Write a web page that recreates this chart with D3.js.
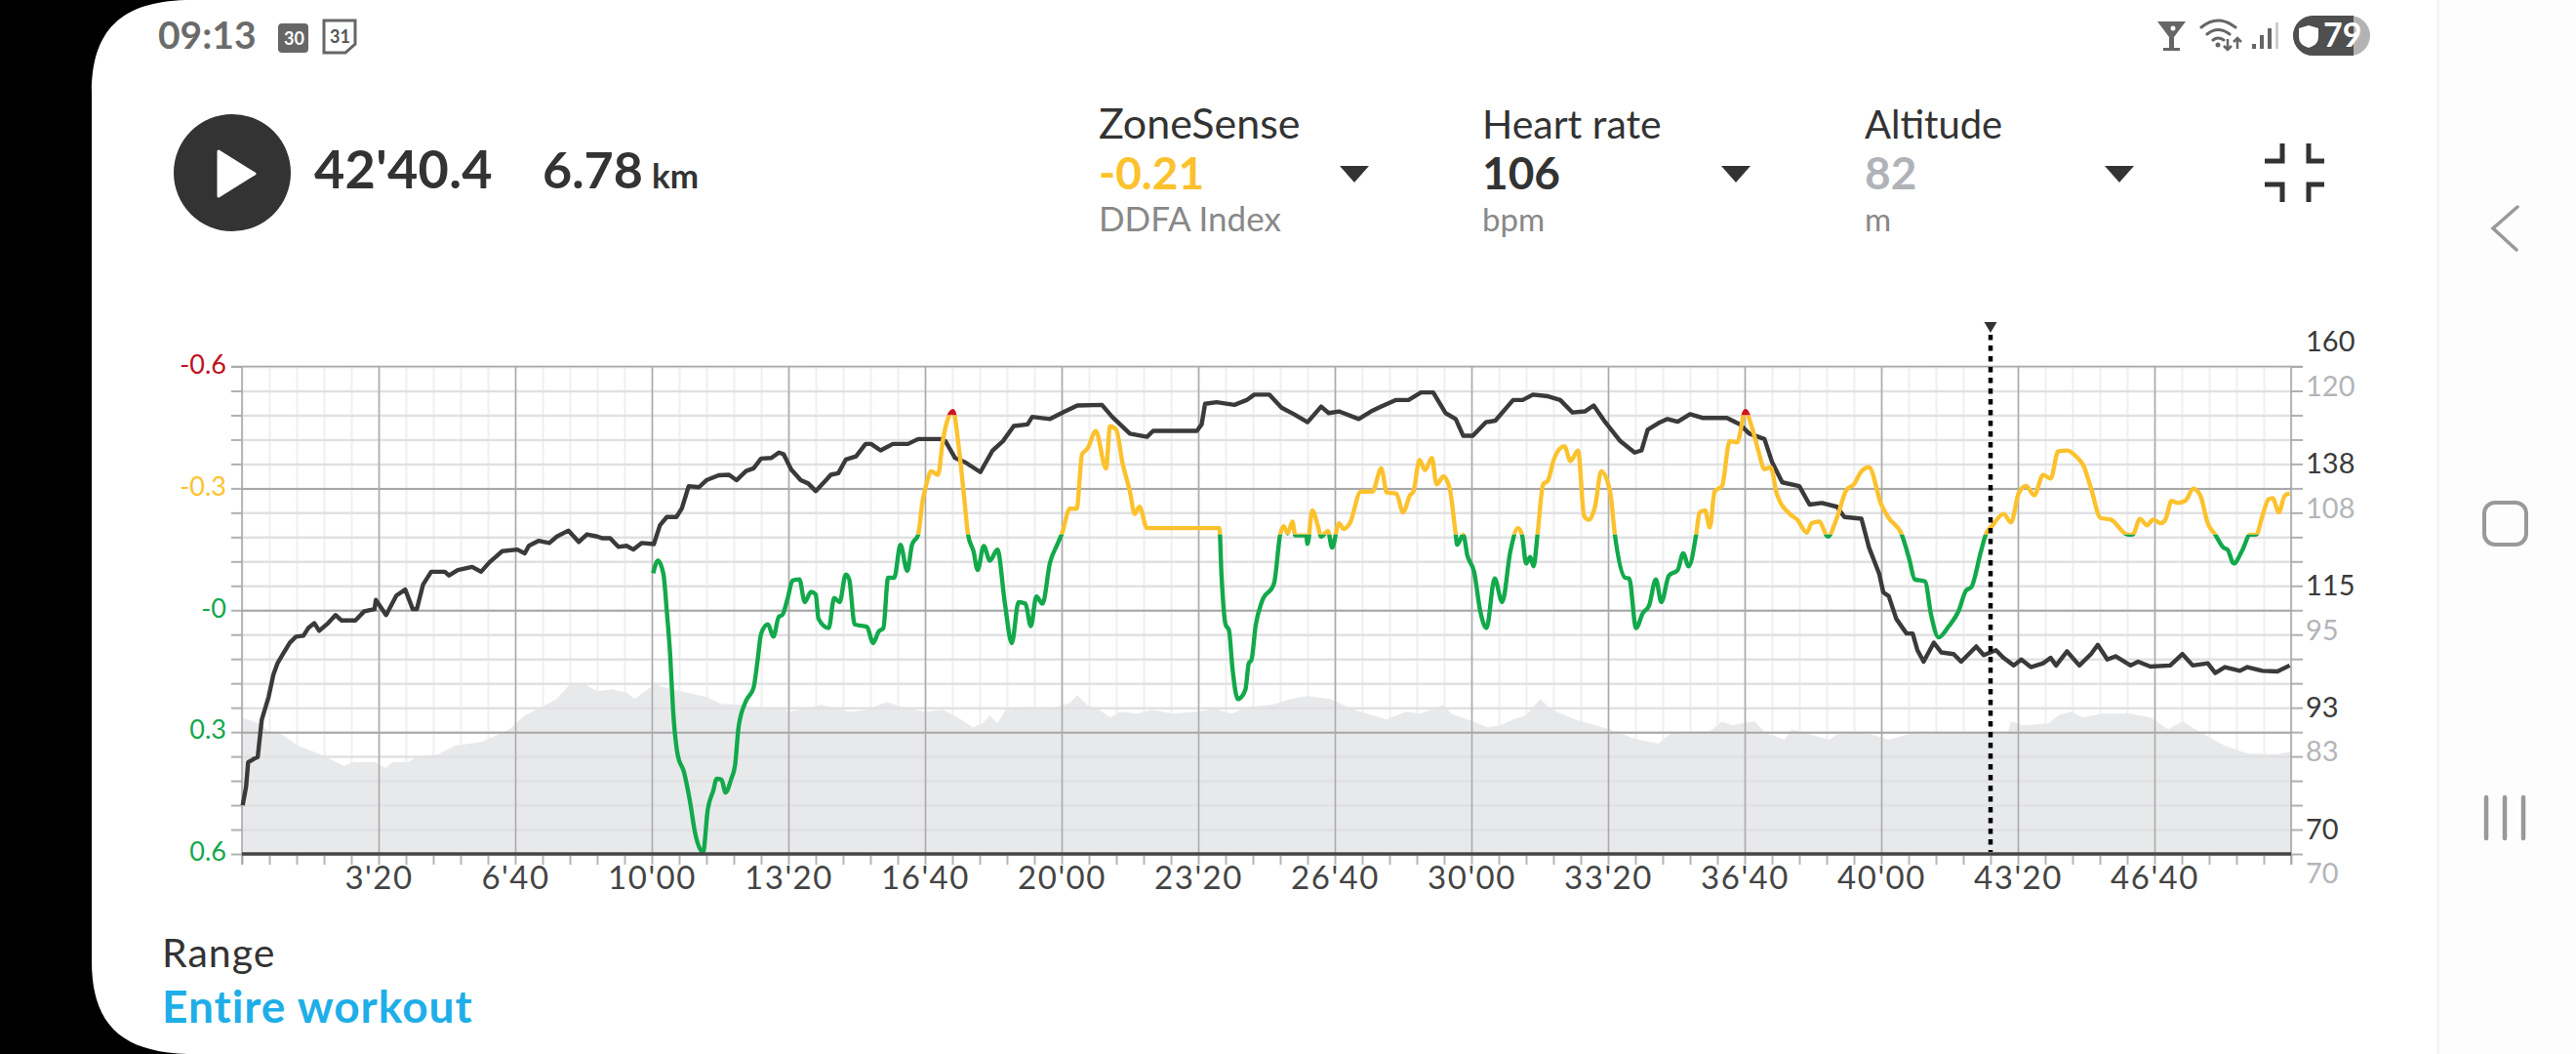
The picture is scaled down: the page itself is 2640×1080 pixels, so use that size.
<!DOCTYPE html>
<html>
<head>
<meta charset="utf-8">
<title>ZoneSense</title>
<script src="https://cdn.jsdelivr.net/npm/d3@7"></script>
<style>
  html, body { margin: 0; padding: 0; background: #fff; overflow: hidden; }
  svg { display: block; font-family: Lato, "Open Sans", sans-serif; }
</style>
</head>
<body>
<div id="chart"></div>
<script>
// values: [seconds, value]
const heartRate = [[1,79],[6,82.4],[9,86.9],[18,87.6],[23,87.9],[29,94.8],[39,99],[46,103.1],[52,105.2],[60,106.9],[70,109],[79,110.1],[90,110.3],[97,111.7],[106,112.6],[113,111.2],[126,112.6],[137,114.1],[146,113.1],[166,113.1],[179,114.8],[194,115.2],[196,116.9],[211,114.1],[226,117.7],[239,118.8],[250,115.2],[256,115.2],[265,119.7],[277,122.1],[297,122.1],[303,121.4],[316,122.4],[337,123],[350,122.1],[362,123.8],[381,125.9],[403,126.2],[414,125.5],[420,126.9],[434,127.8],[450,127.4],[461,128.6],[478,129.7],[493,127.6],[505,129],[520,128.6],[527,128.3],[539,128.3],[551,126.7],[563,126.9],[573,126.2],[585,127.4],[603,127.2],[612,130.7],[622,132.2],[636,132.2],[644,133.8],[654,137.9],[669,137.7],[680,139],[698,139.9],[713,140],[724,139],[738,140.7],[749,141.2],[760,143],[775,143.1],[786,144.1],[793,143.8],[804,141],[818,139],[829,138.4],[840,137],[855,139],[862,140],[873,140.3],[884,142.8],[899,143.4],[913,145.7],[921,145.7],[935,144.5],[953,145.7],[975,145.7],[990,146.6],[1023,146.6],[1030,146.2],[1044,143.1],[1059,142.3],[1081,140.5],[1099,144.5],[1114,146.2],[1130,149],[1150,149.3],[1157,150.7],[1183,150.3],[1205,151.7],[1223,152.8],[1259,152.9],[1274,150.7],[1300,147.6],[1325,147],[1334,148.1],[1398,148.1],[1405,149.3],[1410,153.1],[1427,153.4],[1453,152.9],[1471,153.8],[1482,154.8],[1504,154.8],[1522,152.4],[1540,151.2],[1560,149.7],[1580,152.6],[1591,151.4],[1606,151.7],[1635,150.3],[1653,151.7],[1668,152.6],[1689,153.8],[1708,153.8],[1726,155.2],[1744,155.2],[1762,151.4],[1777,150.3],[1788,147.2],[1802,147.2],[1821,149.7],[1835,150],[1861,153.8],[1875,153.8],[1890,154.8],[1912,154.5],[1930,153.8],[1948,151.5],[1966,151.7],[1979,152.8],[1996,149.7],[2018,146.2],[2039,144.1],[2049,144.5],[2058,148.3],[2076,149.7],[2087,150.3],[2102,149.8],[2120,151.2],[2138,150.5],[2174,150.5],[2193,149.3],[2207,147.6],[2229,146.6],[2240,142.4],[2255,138.6],[2280,137.9],[2295,134.5],[2313,134.8],[2335,134.1],[2346,132.2],[2371,131.9],[2382,126.6],[2397,121.7],[2403,118.3],[2411,117.6],[2422,113.4],[2437,110.7],[2446,110.7],[2453,107.6],[2462,105.5],[2477,109],[2488,107.2],[2506,106.9],[2517,105.5],[2539,108.3],[2550,106.7],[2568,107.6],[2579,106.2],[2594,104.8],[2605,105.9],[2619,104.5],[2637,105.2],[2648,106.2],[2656,104.8],[2672,107.4],[2690,104.8],[2707,106.9],[2717,108.6],[2731,105.9],[2743,106.5],[2765,104.8],[2776,105.5],[2794,104.6],[2823,104.8],[2841,106.9],[2856,104.8],[2878,105.2],[2889,103.4],[2903,104.5],[2925,103.8],[2936,104.5],[2958,103.8],[2980,103.7],[2998,104.8]];

const zoneSense = [[602,-0.091],[609,-0.122],[617,-0.089],[622,0.003],[627,0.113],[631,0.242],[638,0.357],[647,0.398],[656,0.472],[663,0.545],[675,0.596],[682,0.49],[690,0.444],[695,0.415],[702,0.417],[708,0.449],[716,0.417],[722,0.38],[727,0.288],[738,0.223],[749,0.191],[755,0.122],[760,0.058],[770,0.035],[778,0.065],[786,0.016],[791,0.012],[799,-0.03],[806,-0.073],[816,-0.076],[824,-0.02],[833,-0.045],[840,-0.039],[844,0.021],[859,0.044],[867,-0.03],[875,-0.02],[884,-0.088],[889,-0.076],[897,0.035],[915,0.041],[924,0.081],[932,0.053],[939,0.044],[946,-0.08],[955,-0.08],[964,-0.161],[974,-0.097],[981,-0.161],[990,-0.186],[996,-0.264],[1002,-0.31],[1009,-0.342],[1019,-0.333],[1026,-0.416],[1031,-0.457],[1041,-0.49],[1050,-0.393],[1057,-0.283],[1063,-0.186],[1071,-0.145],[1077,-0.099],[1086,-0.158],[1095,-0.122],[1106,-0.149],[1117,-0.016],[1127,0.081],[1137,-0.02],[1147,-0.016],[1155,0.039],[1163,-0.034],[1172,-0.016],[1183,-0.117],[1194,-0.163],[1201,-0.191],[1212,-0.25],[1222,-0.25],[1230,-0.384],[1238,-0.398],[1250,-0.441],[1265,-0.349],[1271,-0.453],[1280,-0.444],[1289,-0.364],[1300,-0.292],[1307,-0.237],[1314,-0.255],[1325,-0.202],[1340,-0.202],[1431,-0.202],[1434,-0.089],[1440,0.035],[1445,0.049],[1450,0.141],[1458,0.219],[1469,0.196],[1474,0.131],[1478,0.122],[1484,0.039],[1493,-0.02],[1511,-0.066],[1520,-0.186],[1525,-0.207],[1531,-0.189],[1538,-0.218],[1542,-0.184],[1558,-0.184],[1560,-0.163],[1567,-0.246],[1575,-0.209],[1580,-0.181],[1590,-0.195],[1596,-0.154],[1606,-0.214],[1613,-0.2],[1622,-0.214],[1638,-0.292],[1655,-0.292],[1668,-0.349],[1676,-0.29],[1690,-0.287],[1700,-0.241],[1710,-0.283],[1715,-0.292],[1724,-0.37],[1732,-0.345],[1742,-0.375],[1749,-0.31],[1759,-0.329],[1768,-0.301],[1777,-0.186],[1779,-0.161],[1788,-0.186],[1794,-0.135],[1804,-0.094],[1813,0.003],[1822,0.044],[1834,-0.078],[1845,-0.02],[1857,-0.145],[1868,-0.202],[1874,-0.186],[1880,-0.115],[1886,-0.131],[1891,-0.108],[1897,-0.191],[1905,-0.31],[1912,-0.319],[1921,-0.373],[1936,-0.404],[1945,-0.367],[1956,-0.393],[1965,-0.232],[1972,-0.223],[1981,-0.255],[1990,-0.342],[2003,-0.292],[2010,-0.186],[2025,-0.08],[2031,-0.078],[2041,0.044],[2051,0.007],[2060,-0.011],[2070,-0.076],[2078,-0.02],[2089,-0.085],[2102,-0.099],[2110,-0.14],[2118,-0.108],[2129,-0.186],[2134,-0.241],[2142,-0.246],[2149,-0.204],[2156,-0.292],[2167,-0.306],[2178,-0.416],[2189,-0.413],[2201,-0.49],[2211,-0.448],[2220,-0.393],[2229,-0.347],[2238,-0.352],[2247,-0.287],[2266,-0.237],[2277,-0.223],[2291,-0.191],[2298,-0.214],[2309,-0.218],[2322,-0.181],[2335,-0.227],[2349,-0.296],[2360,-0.31],[2371,-0.342],[2382,-0.352],[2400,-0.26],[2411,-0.227],[2430,-0.186],[2441,-0.126],[2449,-0.076],[2464,-0.071],[2473,0.012],[2484,0.067],[2499,0.039],[2513,0.003],[2524,-0.048],[2532,-0.057],[2546,-0.145],[2553,-0.186],[2563,-0.209],[2579,-0.237],[2590,-0.216],[2601,-0.287],[2612,-0.306],[2624,-0.283],[2637,-0.333],[2648,-0.324],[2659,-0.391],[2672,-0.393],[2685,-0.379],[2696,-0.356],[2707,-0.301],[2721,-0.227],[2736,-0.223],[2761,-0.186],[2768,-0.186],[2779,-0.225],[2789,-0.209],[2798,-0.223],[2809,-0.214],[2816,-0.223],[2825,-0.269],[2834,-0.264],[2845,-0.269],[2857,-0.299],[2867,-0.283],[2878,-0.214],[2889,-0.186],[2901,-0.154],[2907,-0.149],[2916,-0.115],[2929,-0.149],[2940,-0.186],[2949,-0.186],[2958,-0.232],[2967,-0.273],[2973,-0.276],[2982,-0.241],[2991,-0.283],[2998,-0.287]];

const altitude = [[0,84],[24,83.4],[39,82.6],[57,82.3],[82,81.1],[115,80.2],[150,79],[162,79.4],[195,79.4],[210,78.8],[221,79.4],[243,79.4],[257,80],[287,80.2],[312,81.1],[352,81.5],[392,82.8],[414,84.2],[439,85.1],[461,85.9],[480,87.4],[502,87.4],[520,86.7],[542,86.9],[564,86.5],[575,85.9],[604,87.4],[629,86.9],[655,86.5],[680,86.1],[702,85.4],[735,85.3],[757,84.9],[793,84.9],[801,84.6],[848,85.3],[890,84.6],[915,84.8],[944,85.6],[966,85.1],[1000,84.6],[1026,84.8],[1048,84],[1070,83],[1084,83.4],[1095,84.2],[1106,83.4],[1119,84.9],[1157,85.1],[1179,84.8],[1212,85.5],[1223,86.3],[1237,85.3],[1253,84.9],[1271,84],[1286,84.6],[1311,84.4],[1333,84.8],[1362,84.4],[1398,84.6],[1424,84.9],[1449,84.4],[1474,85.1],[1507,85.3],[1536,85.9],[1558,86.2],[1594,85.9],[1624,84.9],[1675,83.8],[1704,84.6],[1726,84.4],[1759,85.3],[1770,84.4],[1802,83.6],[1824,83],[1842,83.2],[1861,83.8],[1879,84.2],[1901,85.9],[1915,84.9],[1951,83.8],[2002,82.8],[2039,81.8],[2074,81.3],[2091,82.3],[2113,82.6],[2149,82.6],[2167,83.6],[2182,83.2],[2196,83.4],[2215,83.6],[2229,82.5],[2258,81.7],[2269,82.8],[2284,82.5],[2324,81.7],[2342,82.6],[2375,82.5],[2411,81.7],[2455,82.6],[2499,82.3],[2557,82.5],[2586,82.6],[2590,83.6],[2608,83.2],[2645,83.4],[2659,84.2],[2677,84.6],[2696,84],[2721,84.4],[2765,84.4],[2794,84],[2820,82.8],[2841,83.6],[2871,82.3],[2903,81.1],[2936,80.3],[2980,80.2],[3000,80.5]];

const timeMajor = [200, 400, 600, 800, 1000, 1200, 1400, 1600, 1800, 2000, 2200, 2400, 2600, 2800];
const zsTicks = [-0.6, -0.3, 0, 0.3, 0.6];
const zsLabels = ["-0.6", "-0.3", "-0", "0.3", "0.6"];
const zsLabelColors = ["#c1121f", "#fcc22e", "#13a84b", "#13a84b", "#13a84b"];
const hrTicks = [160, 137.5, 115, 92.5, 70];
const hrLabels = ["160", "138", "115", "93", "70"];
const altTicks = [120, 107.5, 95, 82.5, 70];
const altLabels = ["120", "108", "95", "83", "70"];
const cursorTime = 2560;
const zsLimits = [-0.48, -0.186];

const width = 2640, height = 1080;
const plot = { left: 248, right: 2348, top: 375.5, bottom: 875 };

const svg = d3.select("#chart").append("svg")
    .attr("width", width)
    .attr("height", height);

// scales
const x = d3.scaleLinear().domain([0, 3000]).range([plot.left, plot.right]);
const yZs = d3.scaleLinear().domain([-0.6, 0.6]).range([plot.top, plot.bottom]);
const yHr = d3.scaleLinear().domain([160, 70]).range([plot.top, plot.bottom]);
const yAlt = d3.scaleLinear().domain([120, 70]).range([plot.top, plot.bottom]);

const timeFormat = s => Math.floor(s / 60) + "'" + String(s % 60).padStart(2, "0");

const xMinor = d3.range(0, 3001, 40);
const yMinor = d3.range(0, 21).map(i => -0.6 + i * 0.06);
const chartW = plot.right - plot.left, chartH = plot.bottom - plot.top;

// vertical minor grid sits under the altitude area
svg.append("g")
    .attr("transform", `translate(0,${plot.bottom})`)
    .call(d3.axisBottom(x).tickValues(xMinor).tickSize(-chartH).tickFormat(""))
    .call(g => g.select(".domain").remove())
    .selectAll("line").attr("stroke", "#efefef").attr("stroke-width", 2);

// altitude area
const altArea = d3.area()
    .x(d => x(d[0]))
    .y0(plot.bottom)
    .y1(d => yAlt(d[1]));
svg.append("path")
    .datum(altitude)
    .attr("d", altArea)
    .attr("fill", "#e8e9eb");

// small ticks below the axis
svg.append("g")
    .attr("transform", `translate(0,${plot.bottom})`)
    .call(d3.axisBottom(x).tickValues(xMinor).tickSize(11).tickFormat(""))
    .call(g => g.select(".domain").remove())
    .selectAll("line").attr("stroke", "#b5b5b5").attr("stroke-width", 2);

// horizontal minor grid, runs out to short ticks on both sides
svg.append("g")
    .attr("transform", `translate(${plot.left},0)`)
    .call(d3.axisLeft(yZs).tickValues(yMinor).tickSize(11).tickFormat(""))
    .call(g => g.select(".domain").remove())
    .selectAll("line").attr("stroke", "#b0b0b0").attr("stroke-width", 2);
svg.append("g")
    .attr("transform", `translate(${plot.right},0)`)
    .call(d3.axisRight(yZs).tickValues(yMinor).tickSize(12).tickFormat(""))
    .call(g => g.select(".domain").remove())
    .selectAll("line").attr("stroke", "#b0b0b0").attr("stroke-width", 2);
svg.append("g")
    .attr("transform", `translate(${plot.left},0)`)
    .call(d3.axisRight(yZs).tickValues(yMinor).tickSize(chartW).tickFormat(""))
    .call(g => g.select(".domain").remove())
    .selectAll("line").attr("stroke", "#e1e1e3").attr("stroke-width", 2.5);

// major grid
svg.append("g")
    .attr("transform", `translate(${plot.left},0)`)
    .call(d3.axisRight(yZs).tickValues([-0.3, 0, 0.3]).tickSize(chartW).tickFormat(""))
    .call(g => g.select(".domain").remove())
    .selectAll("line").attr("stroke", "#a8a8a8").attr("stroke-width", 2);
svg.append("g")
    .attr("transform", `translate(0,${plot.bottom})`)
    .call(d3.axisBottom(x).tickValues(timeMajor).tickSize(-chartH).tickFormat(""))
    .call(g => g.select(".domain").remove())
    .selectAll("line").attr("stroke", "#ababab").attr("stroke-width", 1.6);
// frame
svg.append("line").attr("x1", plot.left - 11).attr("x2", plot.right + 12)
    .attr("y1", plot.top).attr("y2", plot.top)
    .attr("stroke", "#a8a8a8").attr("stroke-width", 1.6);
svg.append("line").attr("x1", plot.left).attr("x2", plot.left)
    .attr("y1", plot.top).attr("y2", plot.bottom + 11)
    .attr("stroke", "#a8a8a8").attr("stroke-width", 1.6);
svg.append("line").attr("x1", plot.right).attr("x2", plot.right)
    .attr("y1", plot.top).attr("y2", plot.bottom + 11)
    .attr("stroke", "#a8a8a8").attr("stroke-width", 1.6);

// x tick labels
svg.append("g")
    .attr("transform", `translate(0,${plot.bottom})`)
    .call(d3.axisBottom(x).tickValues(timeMajor).tickSize(0).tickPadding(13).tickFormat(timeFormat))
    .call(g => g.select(".domain").remove())
    .selectAll("text")
    .attr("font-family", "Lato, sans-serif")
    .attr("font-size", 33)
    .attr("letter-spacing", 1.5)
    .attr("fill", "#444");

// left labels, coloured per zone
svg.append("g")
    .attr("transform", `translate(${plot.left - 16},0)`)
    .call(d3.axisLeft(yZs).tickValues(zsTicks).tickSize(0).tickPadding(0)
        .tickFormat((d, i) => zsLabels[i]))
    .call(g => g.select(".domain").remove())
    .selectAll("text")
    .attr("font-family", "Lato, sans-serif")
    .attr("font-size", 27)
    .attr("dy", "0.25em")
    .attr("fill", (d, i) => zsLabelColors[i]);

// right labels: heart rate above the line, altitude below it
svg.append("g")
    .attr("transform", `translate(${plot.right + 15},0)`)
    .call(d3.axisRight(yHr).tickValues(hrTicks).tickSize(0).tickPadding(0)
        .tickFormat((d, i) => hrLabels[i]))
    .call(g => g.select(".domain").remove())
    .selectAll("text")
    .attr("font-family", "Lato, sans-serif")
    .attr("font-size", 29)
    .attr("dy", "-0.55em")
    .attr("fill", "#3a3a3a");
svg.append("g")
    .attr("transform", `translate(${plot.right + 15},0)`)
    .call(d3.axisRight(yAlt).tickValues(altTicks).tickSize(0).tickPadding(0)
        .tickFormat((d, i) => altLabels[i]))
    .call(g => g.select(".domain").remove())
    .selectAll("text")
    .attr("font-family", "Lato, sans-serif")
    .attr("font-size", 29)
    .attr("dy", "1.03em")
    .attr("fill", "#b3b5ba");

// heart rate line
const hrLine = d3.line().x(d => x(d[0])).y(d => yHr(d[1]));
svg.append("path")
    .datum(heartRate)
    .attr("d", hrLine)
    .attr("fill", "none")
    .attr("stroke", "#3a3a3a")
    .attr("stroke-width", 4.4)
    .attr("stroke-linejoin", "round");

// zonesense line, same path clipped once per zone
const zones = [
    { id: "zoneRed", from: -0.7, to: zsLimits[0], color: "#d0141e" },
    { id: "zoneYellow", from: zsLimits[0], to: zsLimits[1], color: "#fcc22e" },
    { id: "zoneGreen", from: zsLimits[1], to: 0.7, color: "#12a94b" }
];
const defs = svg.append("defs");
defs.selectAll("clipPath")
    .data(zones)
    .enter().append("clipPath")
    .attr("id", d => d.id)
    .append("rect")
    .attr("x", plot.left)
    .attr("width", chartW)
    .attr("y", d => yZs(d.from))
    .attr("height", d => yZs(d.to) - yZs(d.from));
const zsLine = d3.line().curve(d3.curveMonotoneX).x(d => x(d[0])).y(d => yZs(d[1]));
svg.selectAll(".zs")
    .data(zones)
    .enter().append("path")
    .attr("class", "zs")
    .attr("d", zsLine(zoneSense))
    .attr("clip-path", d => `url(#${d.id})`)
    .attr("fill", "none")
    .attr("stroke", d => d.color)
    .attr("stroke-width", 4.4)
    .attr("stroke-linejoin", "round");

// bottom line
svg.append("line")
    .attr("x1", plot.left).attr("x2", plot.right)
    .attr("y1", plot.bottom).attr("y2", plot.bottom)
    .attr("stroke", "#454545").attr("stroke-width", 3.5);

// cursor
svg.append("line")
    .attr("x1", x(cursorTime)).attr("x2", x(cursorTime))
    .attr("y1", 343).attr("y2", plot.bottom - 2)
    .attr("stroke", "#000")
    .attr("stroke-width", 4.5)
    .attr("stroke-dasharray", "5.5 5.5");
svg.append("path")
    .attr("d", `M${x(cursorTime) - 6.5},330 h13 l-6.5,11 z`)
    .attr("fill", "#333");

// phone frame
svg.append("path")
    .attr("d", "M0,0 H190 C125,2 94,30 94,95 V985 C94,1050 125,1078 192,1080 H0 Z")
    .attr("fill", "#000");
svg.append("rect").attr("x", 2497).attr("y", 0).attr("width", 143).attr("height", 1080).attr("fill", "#fdfdfd");
svg.append("rect").attr("x", 2497).attr("y", 0).attr("width", 3).attr("height", 1080).attr("fill", "#f5f5f5");
const navColor = "#999";
svg.append("path").attr("d", "M2580,212 L2555,234 L2579,256")
    .attr("fill", "none").attr("stroke", navColor).attr("stroke-width", 3.5).attr("stroke-linecap", "round");
svg.append("rect").attr("x", 2546).attr("y", 515).attr("width", 43).attr("height", 43).attr("rx", 11)
    .attr("fill", "none").attr("stroke", navColor).attr("stroke-width", 4);
[2548, 2567, 2586].forEach(bx => {
    svg.append("line").attr("x1", bx).attr("x2", bx).attr("y1", 817).attr("y2", 859)
        .attr("stroke", navColor).attr("stroke-width", 4.5).attr("stroke-linecap", "round");
});

function label(txt, tx, ty, size, color, weight, spacing) {
    return svg.append("text")
        .attr("x", tx).attr("y", ty)
        .attr("font-size", size)
        .attr("font-weight", weight || 400)
        .attr("letter-spacing", spacing || 0)
        .attr("fill", color)
        .text(txt);
}

// status bar
label("09:13", 162, 50, 39, "#6b6b6b", 700);
svg.append("rect").attr("x", 285).attr("y", 24).attr("width", 31).attr("height", 30).attr("rx", 4).attr("fill", "#666");
label("30", 291, 46, 18, "#fff", 700);
svg.append("path").attr("d", "M332,21 H364 V45 L354,54 H332 Z").attr("fill", "none").attr("stroke", "#666").attr("stroke-width", 3);
label("31", 338, 44, 18, "#555", 700);

svg.append("path").attr("d", "M2211,22 H2240 L2228,38 V49 H2234 V52 H2217 V49 H2223 V38 Z").attr("fill", "#666");
svg.append("circle").attr("cx", 2227).attr("cy", 29).attr("r", 2.5).attr("fill", "#fff");
svg.append("path").attr("d", "M2256,28 Q2273,14 2291,28 M2262,35 Q2273,26 2285,35 M2268,41 Q2273,37 2279,41")
    .attr("fill", "none").attr("stroke", "#666").attr("stroke-width", 3).attr("stroke-linecap", "round");
svg.append("circle").attr("cx", 2273).attr("cy", 46).attr("r", 2.5).attr("fill", "#666");
svg.append("path").attr("d", "M2283,40 V51 M2279,47 L2283,51 L2287,47 M2293,50 V39 M2289,43 L2293,39 L2297,43")
    .attr("fill", "none").attr("stroke", "#666").attr("stroke-width", 2.5);
[[2310, 45], [2318, 36], [2326, 29]].forEach(b => {
    svg.append("rect").attr("x", b[0] - 2).attr("y", b[1]).attr("width", 4).attr("height", 50 - b[1]).attr("fill", "#666");
});
svg.append("rect").attr("x", 2332).attr("y", 23).attr("width", 3).attr("height", 27).attr("fill", "#ccc");
svg.append("rect").attr("x", 2350).attr("y", 16).attr("width", 79).attr("height", 41).attr("rx", 20.5).attr("fill", "#b3b3b3");
svg.append("path").attr("d", "M2370.5,16 H2412 V57 H2370.5 A20.5,20.5 0 0 1 2370.5,16 Z").attr("fill", "#4f4f4f");
svg.append("path").attr("d", "M2366,26 L2376,29 V38 Q2376,46 2366,49 Q2356,46 2356,38 V29 Z").attr("fill", "#fff");
label("79", 2381, 48, 34, "#fff", 700);

// header
svg.append("circle").attr("cx", 238).attr("cy", 177).attr("r", 60).attr("fill", "#333");
svg.append("path").attr("d", "M224,155 L261,178 L224,201 Z")
    .attr("fill", "#fff").attr("stroke", "#fff").attr("stroke-width", 3).attr("stroke-linejoin", "round");
label("42'40.4", 322, 193, 54, "#333", 700, 0.3);
label("6.78", 556, 193, 52, "#333", 700);
label("km", 668, 193, 35, "#333", 700);

const metricNames = ["ZoneSense", "Heart rate", "Altitude"];
const metricNameSizes = [43, 41, 40];
const metricValues = ["-0.21", "106", "82"];
const metricUnits = ["DDFA Index", "bpm", "m"];
const metricUnitSizes = [35, 33, 33];
const metricColors = ["#fcc22e", "#333", "#b1b3b8"];
const metricX = [1126, 1519, 1911];
const arrowX = [1388, 1779, 2172];
metricNames.forEach((n, i) => {
    label(n, metricX[i], 142, metricNameSizes[i], "#333");
    label(metricValues[i], metricX[i], 194, 46, metricColors[i], 700);
    label(metricUnits[i], metricX[i], 237, metricUnitSizes[i], "#888");
    svg.append("path").attr("d", `M${arrowX[i] - 15},170 h30 l-15,17 z`).attr("fill", "#333");
});
svg.append("path")
    .attr("d", "M2321,165 H2339 V147 M2382,165 H2366 V147 M2321,189 H2339 V207 M2382,189 H2366 V207")
    .attr("fill", "none").attr("stroke", "#333").attr("stroke-width", 5);

// range
label("Range", 166, 991, 41, "#333", 400, 1);
label("Entire workout", 166, 1048, 46, "#1eaee8", 700, 1);
</script>
</body>
</html>
